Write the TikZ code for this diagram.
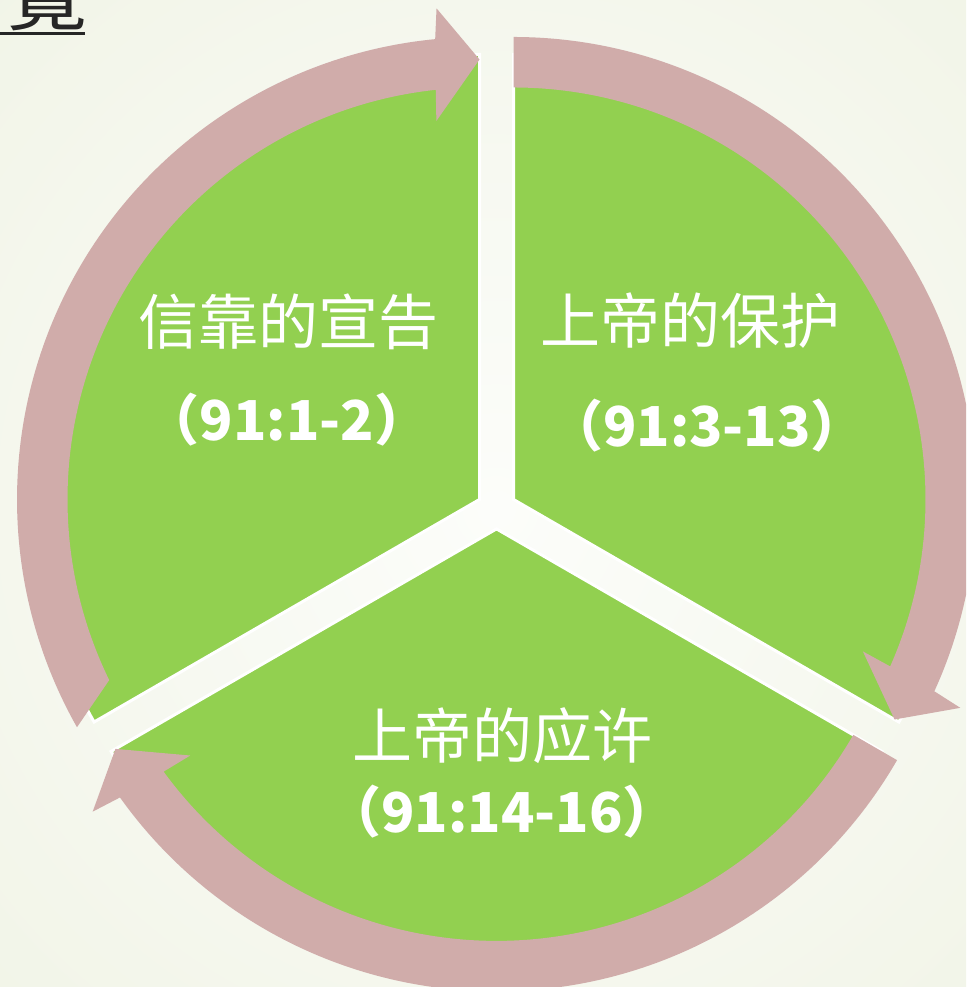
\documentclass[tikz,border=0pt]{standalone}
\usepackage{fontspec}
\newfontfamily\cjk{Noto Sans CJK SC}
\usetikzlibrary{calc}
\definecolor{secgreen}{HTML}{92D050}
\definecolor{arrpink}{HTML}{D0ACAA}
\definecolor{bginner}{HTML}{FCFDFA}
\definecolor{bgouter}{HTML}{EDF1E0}
\definecolor{headdark}{HTML}{262626}
\tikzset{
  sector/.style={fill=secgreen, draw=white, line width=3pt},
  arrowfill/.style={fill=arrpink},
  titletext/.style={text=white, inner sep=0pt, font=\cjk\fontsize{60}{62}\selectfont},
  reftext/.style={text=white, inner sep=0pt, font=\cjk\bfseries\fontsize{55}{58}\selectfont},
}
% #1 centre, #2 tail outer angle, #3 tail inner angle, #4 tip angle (arrow runs clockwise)
\newcommand\segarrow[4]{%
  \fill[arrowfill] ($(#1)+(#2:462.5)$) arc[start angle=#2, end angle=#4+5.5, radius=462.5]
    -- ($(#1)+({#4+5}:493)$) -- ($(#1)+(#4:440)$) -- ($(#1)+({#4+6.5}:381)$)
    -- ($(#1)+({#4+6.1}:412)$) arc[start angle=#4+6.1, end angle=#3, radius=412] -- cycle;}
\begin{document}
\begin{tikzpicture}[x=1pt,y=1pt]
\useasboundingbox (0,0) rectangle (966,987);
\clip (0,0) rectangle (966,987);
\shade[inner color=bginner, outer color=bgouter] (-504,-522) rectangle (1496,1478);
\coordinate (C) at (496.5,477.7);
\coordinate (Vtl) at (479.5,487.5);
\coordinate (Vtr) at (513.5,487.5);
\coordinate (Vb) at (496.5,458.1);
% sectors
\draw[sector] (Vtl) -- ($(Vtl)+(90:445)$) arc[start angle=90, end angle=210, radius=445] -- cycle;
\draw[sector] (Vtr) -- ($(Vtr)+(-30:445)$) arc[start angle=-30, end angle=90, radius=445] -- cycle;
\draw[sector] (Vb) -- ($(Vb)+(210:445)$) arc[start angle=210, end angle=330, radius=445] -- cycle;
% arrows
\segarrow{Vtl}{209.5}{206}{90}
\segarrow{Vtr}{90}{90}{-30}
\segarrow{Vb}{330}{330}{210}
% texts
\node[titletext] (t1) at (288,665) {信靠的宣告};
\node[reftext] (r1) at (287,567) {（91:1-2）};
\node[titletext] (t2) at (690,666) {上帝的保护};
\node[reftext] (r2) at (707,561) {（91:3-13）};
\node[titletext] (t3) at (502,251) {上帝的应许};
\node[reftext] (r3) at (502,175) {（91:14-16）};
% heading fragment
\node[text=headdark, inner sep=0pt, anchor=base, font=\cjk\fontsize{80}{80}\selectfont] (hd) at (48,962) {覽};
\coordinate (ulA) at (0,953);
\coordinate (ulB) at (85,953);
\draw[headdark, line width=3pt] (ulA) -- (ulB);
\end{tikzpicture}
\end{document}
